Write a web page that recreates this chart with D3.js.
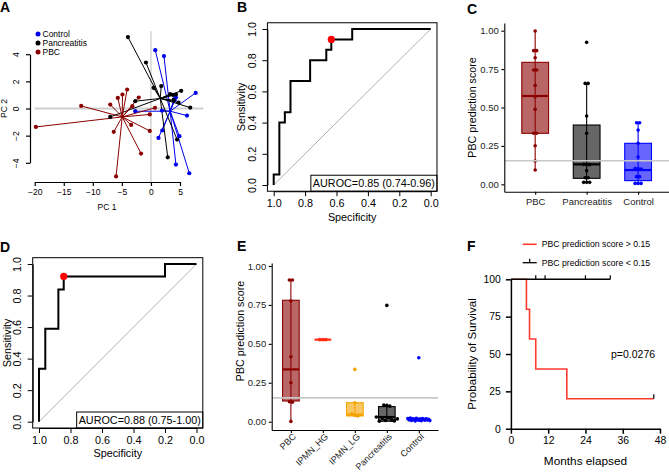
<!DOCTYPE html>
<html><head><meta charset="utf-8">
<script src="https://cdn.jsdelivr.net/npm/d3@7"></script>
<style>body{margin:0;background:#fff} svg{display:block}</style>
</head><body><svg id="c" width="669" height="473"></svg>
<script>
// ================= DATA =================
// Panel A – PCA
const pcaGroups = ["Control", "Pancreatitis", "PBC"];
const controlPC1 = [0.74, 2.24, 7.7, 6.2, 4.0, 4.3, 4.06, -2.7, 1.9, 1.94, 1.3, 4.9, 4.3, 6.6];
const controlPC2 = [4.3, 3.86, 1.15, -0.52, 0.69, 0.81, 0.6, -0.2, -0.15, -1.62, -2.17, -2.04, -4.13, -4.77];
const pancPC1 = [-3.96, -0.86, 0.45, 1.77, 3.3, 3.8, 4.3, 5.2, 3.9, 4.75, 6.76, -2.7, -7.0, 4.5, 2.9];
const pancPC2 = [5.26, 3.39, 1.52, 1.65, 1.06, 1.0, 1.03, 1.3, 0.61, 0.44, 0.07, 0.54, -0.62, -2.29, -3.6];
const pbcPC1 = [-19.8, -12.0, -7.0, -5.7, -4.9, -4.1, -2.1, -3.2, -6.4, -3.4, -0.2, 0.7, -0.2, -1.7, -6.0];
const pbcPC2 = [-1.36, 0.19, 0.29, 0.78, 1.03, 1.40, 0.81, 0.17, -1.72, -1.21, -0.44, 0.05, -1.65, -3.32, -5.0];
const centroidPC1 = [3.3, 1.6, -4.94];
const centroidPC2 = [-0.2, 0.74, -0.62];
const pcaTicksX = [-20, -15, -10, -5, 0, 5];
const pcaTicksY = [-4, -2, 0, 2, 4];

// Panel B / D – ROC
const rocBSpec = [1, 1, 0.964, 0.929, 0.893, 0.768, 0.665, 0.633, 0.5, 0];
const rocBSens = [0, 0.067, 0.4, 0.467, 0.667, 0.8, 0.867, 0.933, 1, 1];
const rocBBest = [0.633, 0.933];
const rocBLabel = "AUROC=0.85 (0.74-0.96)";
const rocDSpec = [1, 1, 0.96, 0.877, 0.843, 0.2, 0];
const rocDSens = [0, 0.336, 0.589, 0.838, 0.921, 1, 1];
const rocDBest = [0.843, 0.921];
const rocDLabel = "AUROC=0.88 (0.75-1.00)";
const rocTicks = [0, 0.2, 0.4, 0.6, 0.8, 1.0];

// Panel C – training scores
const cCategories = ["PBC", "Pancreatitis", "Control"];
const cLow  = [0.093, 0.011, 0.006];
const cQ1   = [0.332, 0.039, 0.024];
const cMed  = [0.575, 0.13, 0.093];
const cQ3   = [0.794, 0.386, 0.267];
const cHigh = [0.998, 0.657, 0.401];
const cPointsPBC = [0.998, 0.87, 0.87, 0.824, 0.744, 0.744, 0.644, 0.57, 0.488, 0.332, 0.332, 0.251, 0.152, 0.093];
const cPointsPanc = [0.924, 0.657, 0.657, 0.445, 0.332, 0.13, 0.13, 0.128, 0.089, 0.043, 0.043, 0.013, 0.013, 0.013];
const cPointsControl = [0.401, 0.401, 0.353, 0.267, 0.178, 0.102, 0.102, 0.1, 0.05, 0.05, 0.006, 0.006, 0.006];
const scoreCutoff = [0.153];
const scoreTicks = [0, 0.25, 0.5, 0.75, 1];

// Panel E – validation scores
const eCategories = ["PBC", "IPMN_HG", "IPMN_LG", "Pancreatitis", "Control"];
const eLow  = [0.002, 0.527, 0.037, 0.003, 0.003];
const eQ1   = [0.133, 0.527, 0.037, 0.003, 0.008];
const eMed  = [0.336, 0.527, 0.045, 0.03, 0.015];
const eQ3   = [0.78, 0.527, 0.122, 0.097, 0.022];
const eHigh = [0.91, 0.527, 0.122, 0.107, 0.026];
const ePointsPBC = [0.91, 0.91, 0.775, 0.417, 0.25, 0.128, 0.125, 0.002];
const ePointsHG = [0.527, 0.527, 0.527];
const ePointsLG = [0.336, 0.122, 0.05, 0.04, 0.037];
const ePointsPanc = [0.747, 0.107, 0.105, 0.1, 0.03, 0.003, 0.02, 0.008, 0.025, 0.012, 0.005, 0.018];
const ePointsControl = [0.411, 0.02, 0.012, 0.024, 0.008, 0.018, 0.015, 0.005, 0.022, 0.013, 0.01, 0.017, 0.006, 0.021, 0.014, 0.009, 0.019, 0.011, 0.016, 0.007];

// Panel F – survival
const fHighTimes = [0, 5, 6, 8, 18, 46];
const fHighSurv = [100, 80, 60, 40, 20, 20];
const fHighCensor = [46];
const fLowTimes = [0, 32];
const fLowSurv = [100, 100];
const fLowCensor = [8, 11, 24, 32];
const fTicksX = [0, 12, 24, 36, 48];
const fTicksY = [0, 25, 50, 75, 100];
const fLegend = ["PBC prediction score > 0.15", "PBC prediction score < 0.15"];
const fPValue = "p=0.0276";

// ================= DRAWING =================
const FONT = '"Liberation Sans", Arial, Helvetica, sans-serif';
const svg = d3.select("#c").attr("font-family", FONT);

function styleAxis(g, size, color, width) {
  g.attr("font-family", FONT).attr("font-size", size);
  g.selectAll("text").attr("fill", color || "#000");
  g.selectAll("line,path").attr("stroke", "#000").attr("stroke-width", width || 1);
}
function rotateLeftLabels(g, off) {
  g.selectAll(".tick text").attr("x", 0).attr("y", 0).attr("dy", null)
    .attr("text-anchor", "middle").attr("transform", `translate(${-off},0) rotate(-90)`);
}
function label(x, y, s, size, o = {}) {
  const t = svg.append("text").attr("x", x).attr("y", y).text(s).attr("font-size", size).attr("fill", o.fill || "#000");
  t.attr("text-anchor", o.anchor || "start");
  if (o.weight) t.attr("font-weight", o.weight);
  if (o.rot) t.attr("transform", `rotate(-90,${x},${y})`);
  return t;
}

// Panel letters
[["A", 0, 11.5], ["B", 237, 11.5], ["C", 467, 13.5], ["D", 0, 252], ["E", 237, 251], ["F", 467, 251]]
  .forEach(([s, x, y]) => label(x, y, s, 14, { weight: "bold" }));

// ---------- Panel A ----------
(function () {
  const x = d3.scaleLinear().domain([-20, 5]).range([34.7, 180]);
  const y = d3.scaleLinear().domain([-4, 4]).range([162.8, 54.2]);
  const g = svg.append("g");
  g.append("line").attr("x1", x(-20)).attr("x2", x(9)).attr("y1", y(0)).attr("y2", y(0))
    .attr("stroke", "#cfcfcf").attr("stroke-width", 2);
  g.append("line").attr("x1", x(0)).attr("x2", x(0)).attr("y1", y(5.7)).attr("y2", y(-5.45))
    .attr("stroke", "#bdbdbd").attr("stroke-width", 1);
  const colors = ["#0000EE", "#000000", "#8B0000"];
  const sets = [[controlPC1, controlPC2], [pancPC1, pancPC2], [pbcPC1, pbcPC2]];
  sets.forEach(([px, py], gi) => {
    const cx = centroidPC1[gi], cy = centroidPC2[gi];
    px.forEach((v, i) => {
      g.append("line").attr("x1", x(cx)).attr("y1", y(cy)).attr("x2", x(v)).attr("y2", y(py[i]))
        .attr("stroke", colors[gi]).attr("stroke-width", 1);
    });
  });
  sets.forEach(([px, py], gi) => {
    px.forEach((v, i) => {
      g.append("circle").attr("cx", x(v)).attr("cy", y(py[i])).attr("r", 2.1).attr("fill", colors[gi]);
    });
  });
  const ax = g.append("g").attr("transform", "translate(0,182)")
    .call(d3.axisBottom(x).tickValues(pcaTicksX).tickSize(4).tickPadding(2.5).tickSizeOuter(0));
  styleAxis(ax, 8.5, "#000", 1.2);
  const ay = g.append("g").attr("transform", "translate(30,0)")
    .call(d3.axisLeft(y).tickValues(pcaTicksY).tickSize(4).tickSizeOuter(0));
  styleAxis(ay, 8.5, "#000", 1.2);
  rotateLeftLabels(ay, 11.5);
  label(107, 210, "PC 1", 8.5, { anchor: "middle" });
  label(6.5, 108.5, "PC 2", 8.5, { anchor: "middle", rot: true });
  pcaGroups.forEach((n, i) => {
    const yy = 34 + i * 9;
    g.append("circle").attr("cx", 38).attr("cy", yy).attr("r", 2.5).attr("fill", colors[i]);
    label(42.5, yy + 3, n, 8.5);
  });
})();

// ---------- ROC panels ----------
function drawROC(b, spec, sens, best, lab) {
  const x = d3.scaleLinear().domain([1, 0]).range([b.xl, b.xr]);
  const y = d3.scaleLinear().domain([0, 1]).range([b.yb, b.yt]);
  const px = 0.04 * (b.xr - b.xl), py = 0.04 * (b.yb - b.yt);
  const L = b.xl - px, R = b.xr + px, T = b.yt - py, B = b.yb + py;
  const g = svg.append("g");
  g.append("line").attr("x1", x(1)).attr("y1", y(0)).attr("x2", x(0)).attr("y2", y(1))
    .attr("stroke", "#a8a8a8").attr("stroke-width", 0.9);
  const pts = spec.map((s, i) => [s, sens[i]]);
  g.append("path").attr("d", d3.line().x(d => x(d[0])).y(d => y(d[1])).curve(d3.curveStepAfter)(pts))
    .attr("fill", "none").attr("stroke", "#000").attr("stroke-width", 2);
  g.append("circle").attr("cx", x(best[0])).attr("cy", y(best[1])).attr("r", 3.6).attr("fill", "#FF0000");
  g.append("rect").attr("x", L).attr("y", T).attr("width", R - L).attr("height", B - T)
    .attr("fill", "none").attr("stroke", "#000").attr("stroke-width", 1);
  const ax = g.append("g").attr("transform", `translate(0,${B})`)
    .call(d3.axisBottom(x).tickValues(rocTicks).tickFormat(d3.format(".1f")).tickSize(5).tickPadding(b.tp).tickSizeOuter(0));
  styleAxis(ax, 10.8, "#000", 1);
  const ay = g.append("g").attr("transform", `translate(${L},0)`)
    .call(d3.axisLeft(y).tickValues(rocTicks).tickFormat(d3.format(".1f")).tickSize(5).tickSizeOuter(0));
  styleAxis(ay, 10.8, "#000", 1);
  rotateLeftLabels(ay, 11.5);
  label((L + R) / 2, b.specY, "Specificity", 10.8, { anchor: "middle" });
  label(L - 22, (T + B) / 2, "Sensitivity", 10.8, { anchor: "middle", rot: true });
  const t = g.append("text").attr("font-size", 10.8).attr("y", B - 4.3).text(lab);
  const w = t.node().getComputedTextLength();
  const rx = R - w - 4;
  t.attr("x", rx + 2);
  g.append("rect").attr("x", rx).attr("y", B - 16).attr("width", R - rx).attr("height", 16)
    .attr("fill", "none").attr("stroke", "#000").attr("stroke-width", 1);
}
drawROC({ xl: 273.7, xr: 430.7, yt: 29, yb: 185, tp: 3.3, specY: 221 }, rocBSpec, rocBSens, rocBBest, rocBLabel);
drawROC({ xl: 39, xr: 196.5, yt: 264, yb: 421.7, tp: 3.3, specY: 456.5 }, rocDSpec, rocDSens, rocDBest, rocDLabel);

// ---------- Box panels ----------
function jitterOffsets(vals, tol, step, maxW) {
  const clusters = [];
  const assign = vals.map(v => {
    let c = clusters.find(c => Math.abs(c.seed - v) <= tol);
    if (!c) { c = { seed: v, n: 0 }; clusters.push(c); }
    const k = c.n++;
    return [c, k];
  });
  return assign.map(([c, k]) => {
    if (c.n < 2) return 0;
    const s = Math.min(step, maxW / (c.n - 1));
    return (k - (c.n - 1) / 2) * s;
  });
}
function drawBoxPanel(o) {
  const g = svg.append("g");
  const x = d3.scalePoint().domain(o.cats).range([o.left, o.right]).padding(0.6);
  const y = d3.scaleLinear().domain(o.ydom).range([o.bottom, o.top]);
  const bw = x.step() * 0.52;
  o.cats.forEach((c, i) => {
    const cx = x(c), col = o.colors[i];
    g.append("line").attr("x1", cx).attr("x2", cx).attr("y1", y(o.low[i])).attr("y2", y(o.high[i]))
      .attr("stroke", col).attr("stroke-width", 1.1);
    g.append("rect").attr("x", cx - bw / 2).attr("width", bw).attr("y", y(o.q3[i]))
      .attr("height", Math.max(0, y(o.q1[i]) - y(o.q3[i])))
      .attr("fill", col).attr("fill-opacity", 0.6).attr("stroke", col).attr("stroke-width", 1.1);
    g.append("line").attr("x1", cx - bw / 2).attr("x2", cx + bw / 2).attr("y1", y(o.med[i])).attr("y2", y(o.med[i]))
      .attr("stroke", col).attr("stroke-width", 2.2);
    const offs = jitterOffsets(o.points[i], o.tol, 3, o.maxW);
    o.points[i].forEach((v, j) => {
      g.append("circle").attr("cx", cx + offs[j]).attr("cy", y(v)).attr("r", 1.8).attr("fill", col);
    });
  });
  g.append("line").attr("x1", o.left).attr("x2", o.right).attr("y1", y(scoreCutoff[0])).attr("y2", y(scoreCutoff[0]))
    .attr("stroke", "#c8c8c8").attr("stroke-width", 1.6);
  const ay = g.append("g").attr("transform", `translate(${o.left},0)`)
    .call(d3.axisLeft(y).tickValues(scoreTicks).tickFormat(d3.format(".2f")).tickSize(3).tickPadding(2.5).tickSizeOuter(0));
  styleAxis(ay, 9.5, "#222", 1.1);
  const ax = g.append("g").attr("transform", `translate(0,${o.bottom})`)
    .call(d3.axisBottom(x).tickSize(3).tickPadding(3.5).tickSizeOuter(0));
  styleAxis(ax, 9.5, "#222", 1.1);
  if (o.rotX) {
    ax.attr("font-size", 9);
    ax.selectAll(".tick text").attr("y", 0).attr("dy", "0.35em").attr("text-anchor", "end")
      .attr("transform", "translate(3,5) rotate(-45)");
  }
  label(o.ylabX, o.ylabY, "PBC prediction score", 10.7, { anchor: "middle", rot: true });
}
drawBoxPanel({
  cats: cCategories, low: cLow, q1: cQ1, med: cMed, q3: cQ3, high: cHigh,
  points: [cPointsPBC, cPointsPanc, cPointsControl],
  colors: ["#8B0000", "#000000", "#0000FF"],
  left: 504.3, right: 669, top: 23, bottom: 191.7, ydom: [-0.048, 1.05],
  tol: 0.006, maxW: 10, ylabX: 475.5, ylabY: 107.5
});
drawBoxPanel({
  cats: eCategories, low: eLow, q1: eQ1, med: eMed, q3: eQ3, high: eHigh,
  points: [ePointsPBC, ePointsHG, ePointsLG, ePointsPanc, ePointsControl],
  colors: ["#8B0000", "#FF2A10", "#F5A300", "#000000", "#0000FF"],
  left: 271.7, right: 438, top: 263, bottom: 430, ydom: [-0.0533, 1.0193],
  tol: 0.03, maxW: 22, ylabX: 244, ylabY: 331, rotX: true
});

// ---------- Panel F ----------
(function () {
  const x = d3.scaleLinear().domain([0, 48]).range([510.9, 660]);
  const y = d3.scaleLinear().domain([0, 100]).range([428.7, 279.3]);
  const g = svg.append("g");
  const red = "#FF3B2F";
  const line = d3.line().x(d => x(d[0])).y(d => y(d[1])).curve(d3.curveStepAfter);
  g.append("path").attr("d", line(fHighTimes.map((t, i) => [t, fHighSurv[i]])))
    .attr("fill", "none").attr("stroke", red).attr("stroke-width", 1.6);
  fHighCensor.forEach(t => {
    g.append("line").attr("x1", x(t)).attr("x2", x(t)).attr("y1", y(20)).attr("y2", y(20) - 4.5)
      .attr("stroke", "#000").attr("stroke-width", 1.2);
  });
  g.append("path").attr("d", line(fLowTimes.map((t, i) => [t, fLowSurv[i]])))
    .attr("fill", "none").attr("stroke", "#000").attr("stroke-width", 1.4);
  fLowCensor.forEach(t => {
    g.append("line").attr("x1", x(t)).attr("x2", x(t)).attr("y1", y(100)).attr("y2", y(100) - 4)
      .attr("stroke", "#000").attr("stroke-width", 1.2);
  });
  const ax = g.append("g").attr("transform", `translate(0,${y(0)})`)
    .call(d3.axisBottom(x).tickValues(fTicksX).tickSize(5).tickPadding(3).tickSizeOuter(0));
  styleAxis(ax, 10.4, "#000", 1.5);
  const ay = g.append("g").attr("transform", `translate(${x(0)},0)`)
    .call(d3.axisLeft(y).tickValues(fTicksY).tickSize(5).tickPadding(5).tickSizeOuter(0));
  styleAxis(ay, 10.4, "#000", 1.5);
  label(585.5, 464.5, "Months elapsed", 11.8, { anchor: "middle" });
  label(475.5, 354, "Probability of Survival", 11.6, { anchor: "middle", rot: true });
  label(611, 358, fPValue, 10.5);
  // legend
  g.append("line").attr("x1", 522.7).attr("x2", 536.7).attr("y1", 244.3).attr("y2", 244.3).attr("stroke", red).attr("stroke-width", 1.6);
  label(541.7, 247.3, fLegend[0], 8.7);
  g.append("line").attr("x1", 522.7).attr("x2", 536.7).attr("y1", 262.7).attr("y2", 262.7).attr("stroke", "#000").attr("stroke-width", 1.3);
  g.append("line").attr("x1", 529.7).attr("x2", 529.7).attr("y1", 262.7).attr("y2", 258.7).attr("stroke", "#000").attr("stroke-width", 1.2);
  label(541.7, 265.7, fLegend[1], 8.7);
})();
</script></body></html>
